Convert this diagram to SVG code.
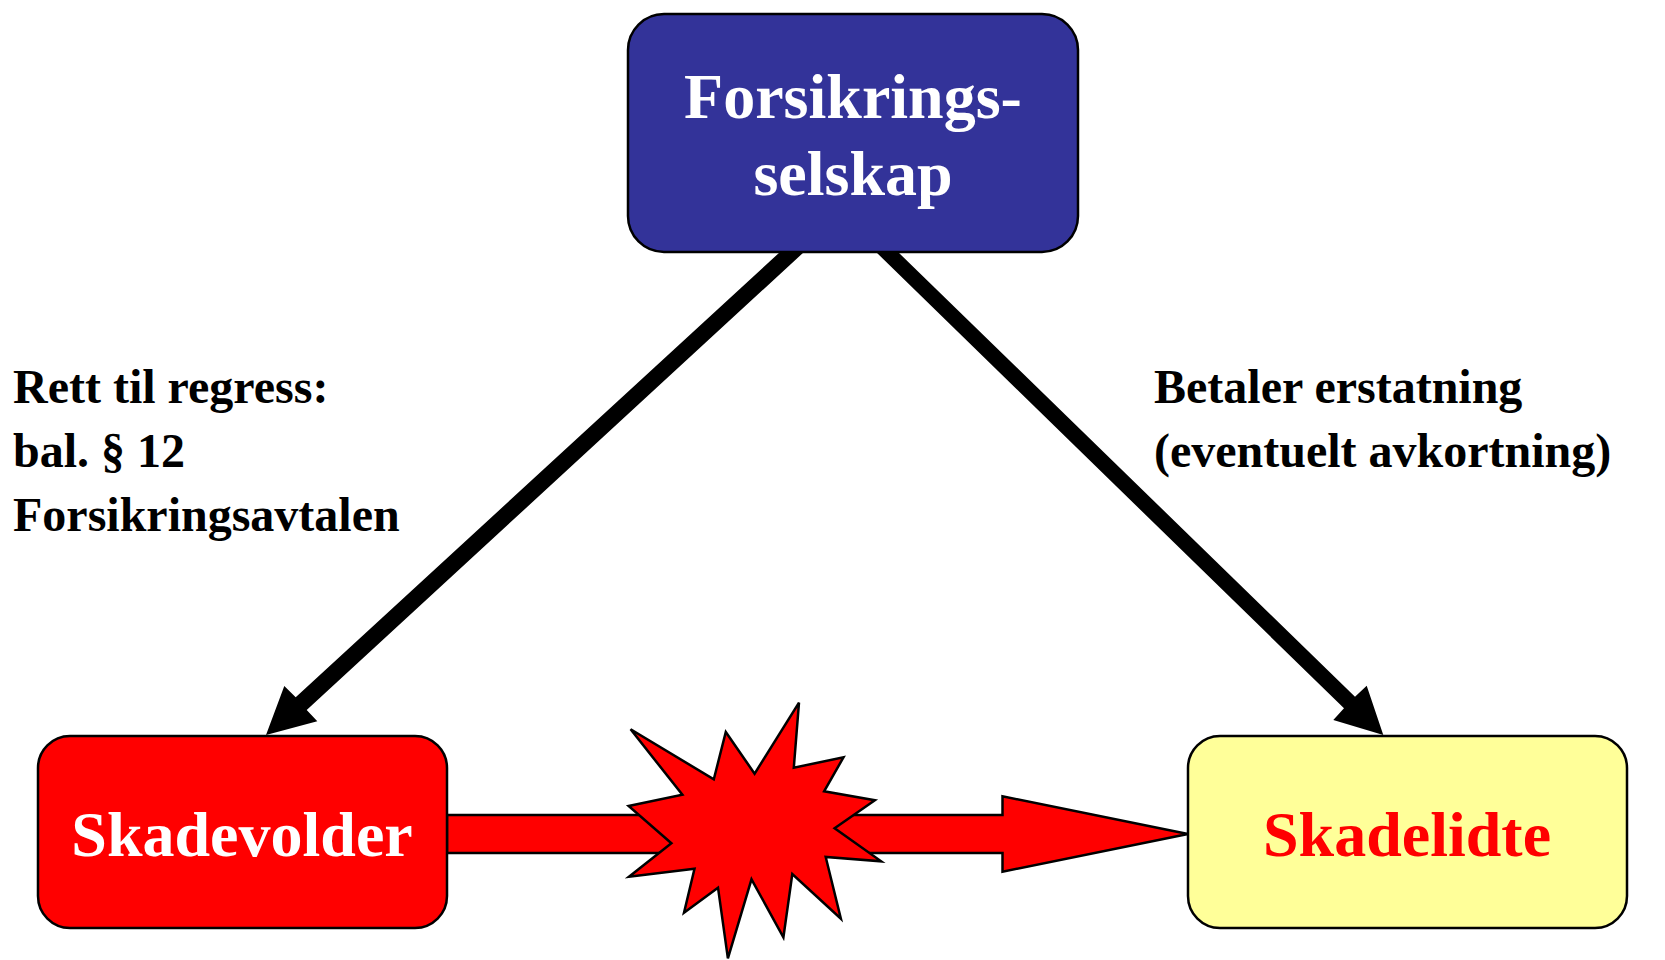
<svg xmlns="http://www.w3.org/2000/svg" width="1665" height="960" viewBox="0 0 1665 960">
<style>
text{font-family:"Liberation Serif","Times New Roman",serif;font-weight:bold}
.t{font-size:64px;text-anchor:middle}
.l{font-size:48px;fill:#000}
.b{stroke:#000;stroke-width:2.5}
</style>
<rect width="1665" height="960" fill="#fff"/>
<g id="connectors">
<polygon id="arrow-left" points="780,252 804,252 306.7,710 317.3,721.3 266,735 284.3,686 295.7,697.3" fill="#000"/>
<polygon id="arrow-right" points="876,252 898,252 1355,696.7 1366.7,685.7 1383.3,735 1333.3,720 1344,708.3" fill="#000"/>
<polygon id="arrow-red" class="b" points="447,815 1002.5,815 1002.5,796.3 1188,834 1002.5,871.7 1002.5,853 447,853" fill="#f00"/>
</g>
<g id="forsikringsselskap">
<rect class="b" x="628" y="14" width="450" height="238" rx="36" fill="#333399"/>
<text class="t" x="853" y="118" fill="#fff">Forsikrings-</text>
<text class="t" x="853" y="195" fill="#fff">selskap</text>
</g>
<g id="skadevolder">
<rect class="b" x="38" y="736" width="409" height="192" rx="32" fill="#f00"/>
<text class="t" x="242" y="856" fill="#fff">Skadevolder</text>
</g>
<g id="skadelidte">
<rect class="b" x="1188" y="736" width="439" height="192" rx="32" fill="#ffff99"/>
<text class="t" x="1407" y="856" fill="#f00">Skadelidte</text>
</g>
<g id="explosion">
<polygon class="b" fill="#f00" points="799,702.7 793.8,767.7 843.5,757.3 824.1,791.3 874.9,800.3 834.6,828.3 881.2,861.3 825.7,857 840.9,918.7 792.3,874 783.4,937.3 751.5,879.3 727.9,958.3 718,887.7 684,912.7 694.5,868.7 629,876.7 671.4,843.3 628.6,806 682.4,794.7 630.6,729.3 713.8,779.3 725.8,732 754.6,773.7"/>
</g>
<g id="label-regress">
<text class="l" x="13" y="403">Rett til regress:</text>
<text class="l" x="13" y="467">bal. § 12</text>
<text class="l" x="13" y="531">Forsikringsavtalen</text>
</g>
<g id="label-erstatning">
<text class="l" x="1154" y="403">Betaler erstatning</text>
<text class="l" x="1154" y="467">(eventuelt avkortning)</text>
</g>
</svg>
